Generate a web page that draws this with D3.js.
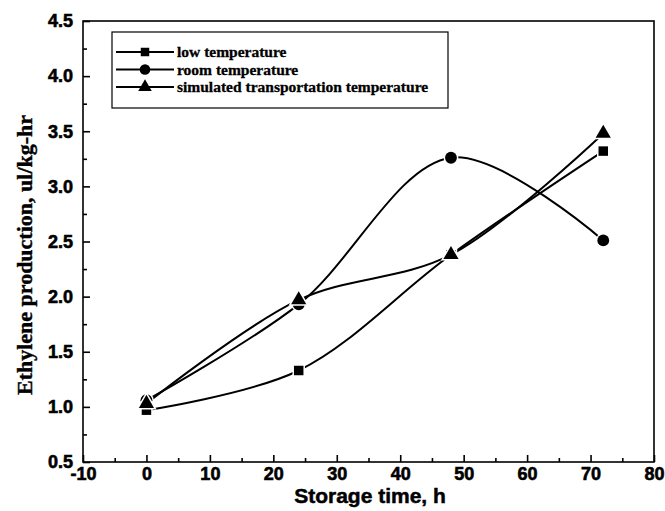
<!DOCTYPE html>
<html>
<head>
<meta charset="utf-8">
<script src="https://cdn.jsdelivr.net/npm/d3@7"></script>
<style>
  body { margin: 0; background: #fff; }
  svg { display: block; }
</style>
</head>
<body>
<svg id="chart" width="665" height="511"></svg>
<script>
// data
const times = [0, 24, 48, 72];
const lowTemp = [0.97, 1.33, 2.38, 3.32];
const roomTemp = [1.06, 1.93, 3.26, 2.51];
const simTemp = [1.03, 1.97, 2.38, 3.48];
const seriesNames = ["low temperature", "room temperature", "simulated transportation temperature"];
const xTicks = [-10, 0, 10, 20, 30, 40, 50, 60, 70, 80];
const yTicks = [0.5, 1.0, 1.5, 2.0, 2.5, 3.0, 3.5, 4.0, 4.5];

const svg = d3.select("#chart");
const m = {left: 83, right: 654, top: 21, bottom: 462};

const x = d3.scaleLinear().domain([-10, 80]).range([m.left, m.right]);
const y = d3.scaleLinear().domain([0.5, 4.5]).range([m.bottom, m.top]);

const series = [
  {name: seriesNames[0], vals: lowTemp, shape: d3.symbolSquare, size: 90},
  {name: seriesNames[1], vals: roomTemp, shape: d3.symbolCircle, size: 110},
  {name: seriesNames[2], vals: simTemp, shape: d3.symbolTriangle, size: 100}
];

// frame
svg.append("rect")
  .attr("x", m.left).attr("y", m.top)
  .attr("width", m.right - m.left).attr("height", m.bottom - m.top)
  .attr("fill", "none").attr("stroke", "#000").attr("stroke-width", 1.6);

// axes with inward ticks
const xAxis = svg.append("g").attr("transform", `translate(0,${m.bottom})`)
  .call(d3.axisBottom(x).tickValues(xTicks).tickSize(-7).tickPadding(5).tickFormat(d => String(d)));
const xMinor = svg.append("g").attr("transform", `translate(0,${m.bottom})`)
  .call(d3.axisBottom(x).tickValues(xTicks.slice(0, -1).map(d => d + 5)).tickSize(-4).tickFormat(""));
const yAxis = svg.append("g").attr("transform", `translate(${m.left},0)`)
  .call(d3.axisLeft(y).tickValues(yTicks).tickSize(-7).tickPadding(10).tickFormat(d3.format(".1f")));
const yMinor = svg.append("g").attr("transform", `translate(${m.left},0)`)
  .call(d3.axisLeft(y).tickValues(yTicks.slice(0, -1).map(d => d + 0.25)).tickSize(-4).tickFormat(""));

[xAxis, xMinor, yAxis, yMinor].forEach(g => {
  g.select(".domain").remove();
  g.selectAll(".tick line").attr("stroke", "#000").attr("stroke-width", 1.6);
  g.selectAll("text")
    .attr("fill", "#000")
    .attr("font-family", "'Liberation Sans', Arial, sans-serif")
    .attr("font-weight", "bold")
    .attr("font-size", 18)
    .attr("stroke", "#000").attr("stroke-width", 0.6);
});

// axis titles
svg.append("text")
  .attr("x", 370).attr("y", 503)
  .attr("text-anchor", "middle")
  .attr("font-family", "'Liberation Sans', Arial, sans-serif")
  .attr("font-weight", "bold").attr("font-size", 21)
  .attr("stroke", "#000").attr("stroke-width", 0.5)
  .text("Storage time, h");

svg.append("text")
  .attr("transform", "translate(32,255) rotate(-90)")
  .attr("text-anchor", "middle")
  .attr("font-family", "'Liberation Serif', 'Times New Roman', serif")
  .attr("font-weight", "bold").attr("font-size", 22)
  .attr("stroke", "#000").attr("stroke-width", 0.4)
  .text("Ethylene production, ul/kg-hr");

// lines
const line = d3.line()
  .x((d, i) => x(times[i]))
  .y(d => y(d))
  .curve(d3.curveCatmullRom.alpha(0.5));

const plot = svg.append("g");
series.forEach(s => {
  plot.append("path")
    .attr("d", line(s.vals))
    .attr("fill", "none").attr("stroke", "#000").attr("stroke-width", 2);
});
series.forEach(s => {
  plot.selectAll(null).data(s.vals).join("path")
    .attr("transform", (d, i) => `translate(${x(times[i])},${y(d)})`)
    .attr("d", d3.symbol().type(s.shape).size(s.size))
    .attr("fill", "#000").attr("stroke", "#fff").attr("stroke-width", 3)
    .attr("paint-order", "stroke");
});

// legend
const lg = svg.append("g");
lg.append("rect")
  .attr("x", 112).attr("y", 32).attr("width", 336).attr("height", 76)
  .attr("fill", "#fff").attr("stroke", "#000").attr("stroke-width", 1.2);
series.forEach((s, i) => {
  const ly = 52 + i * 17.5;
  lg.append("line").attr("x1", 116).attr("x2", 174).attr("y1", ly).attr("y2", ly)
    .attr("stroke", "#000").attr("stroke-width", 2.2);
  lg.append("path")
    .attr("transform", `translate(145,${ly})`)
    .attr("d", d3.symbol().type(s.shape).size(s.size * 0.8))
    .attr("fill", "#000");
  lg.append("text")
    .attr("x", 177).attr("y", ly + 5)
    .attr("font-family", "'Liberation Serif', 'Times New Roman', serif")
    .attr("font-weight", "bold").attr("font-size", 15.5)
    .attr("stroke", "#000").attr("stroke-width", 0.3)
    .text(s.name);
});
</script>
</body>
</html>
